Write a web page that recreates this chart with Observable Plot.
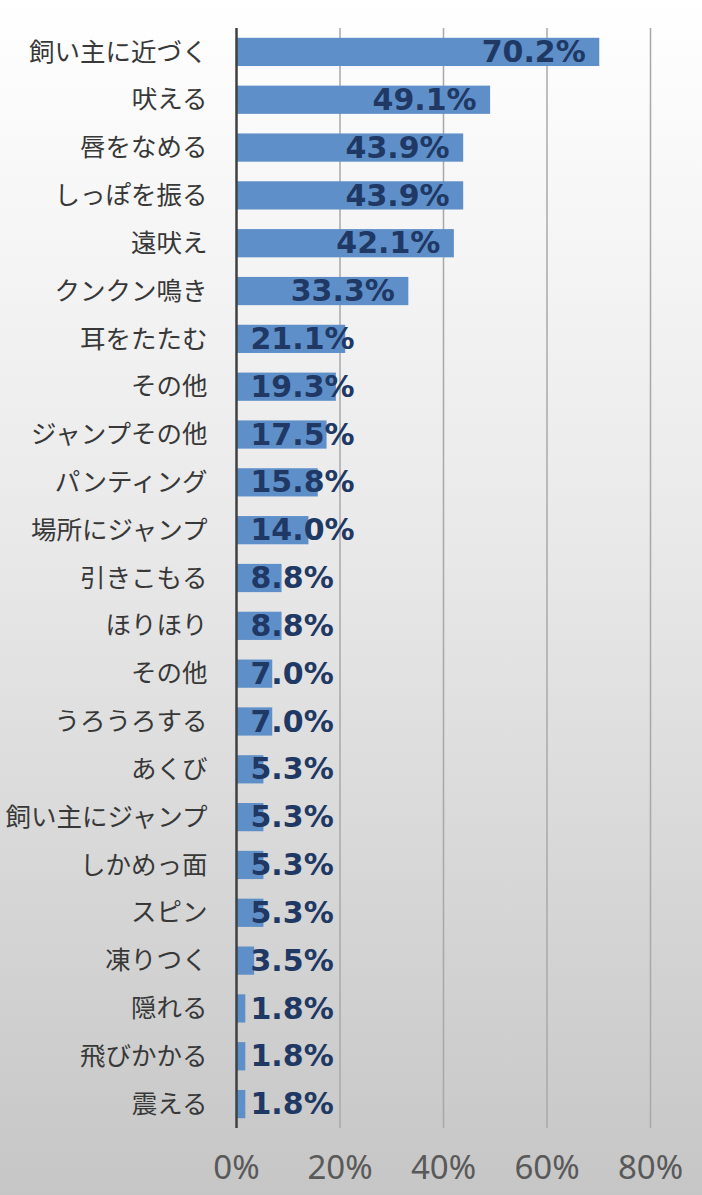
<!DOCTYPE html>
<html><head><meta charset="utf-8">
<script src="https://cdn.jsdelivr.net/npm/d3@7"></script>
<script src="https://cdn.jsdelivr.net/npm/@observablehq/plot@0.6"></script>
<style>
html,body{margin:0;padding:0;}
body{width:702px;height:1195px;background:linear-gradient(to bottom,#ffffff 0%,#e9e9e9 45%,#c6c6c6 100%);overflow:hidden;}
svg{background:transparent !important;}
</style></head>
<body><div id="chart"></div>
<script>
const labels = ["飼い主に近づく","吠える","唇をなめる","しっぽを振る","遠吠え","クンクン鳴き","耳をたたむ","その他","ジャンプその他","パンティング","場所にジャンプ","引きこもる","ほりほり","その他","うろうろする","あくび","飼い主にジャンプ","しかめっ面","スピン","凍りつく","隠れる","飛びかかる","震える"];
const values = [70.2,49.1,43.9,43.9,42.1,33.3,21.1,19.3,17.5,15.8,14.0,8.8,8.8,7.0,7.0,5.3,5.3,5.3,5.3,3.5,1.8,1.8,1.8];
const xTicks = [0,20,40,60,80];
const grid = [20,40,60,80];

const data = labels.map((l,i)=>({i, label:l, value:values[i], text:values[i].toFixed(1)+"%"}));
const big = data.filter(d=>d.value>=24);
const small = data.filter(d=>d.value<24);
const idx = d3.range(labels.length);

const chart = Plot.plot({
  width:702, height:1195,
  marginLeft:236, marginRight:52, marginTop:28, marginBottom:67,
  style:{background:"transparent", fontFamily:"'Noto Sans CJK JP', sans-serif"},
  x:{domain:[0,80]},
  y:{domain:idx, paddingInner:0.41, paddingOuter:0.205, align:0.5, round:false},
  marks:[
    Plot.ruleX(grid,{stroke:"#a8a8a8", strokeWidth:1.5}),
    Plot.barX(data,{x:"value", y:"i", fill:"#5e8fc9"}),
    Plot.ruleX([0],{stroke:"#404040", strokeWidth:2.5}),
    Plot.text(big,{x:"value", y:"i", text:"text", textAnchor:"end", dx:-14, fill:"#1f3864", fontWeight:"bold", fontSize:30, fontFamily:"'DejaVu Sans', sans-serif"}),
    Plot.text(small,{x:0, y:"i", text:"text", textAnchor:"start", dx:14, fill:"#1f3864", fontWeight:"bold", fontSize:30, fontFamily:"'DejaVu Sans', sans-serif"}),
    Plot.axisY(idx,{tickSize:0, tickPadding:29, fontSize:25.5, fill:"#383838", label:null, tickFormat:i=>labels[i]}),
    Plot.axisX(xTicks,{tickSize:0, tickPadding:27, fontSize:33, fill:"#595959", label:null, tickFormat:d=>d+"%", fontFamily:"'Noto Sans', sans-serif"})
  ]
});
document.getElementById("chart").appendChild(chart);
</script></body></html>
